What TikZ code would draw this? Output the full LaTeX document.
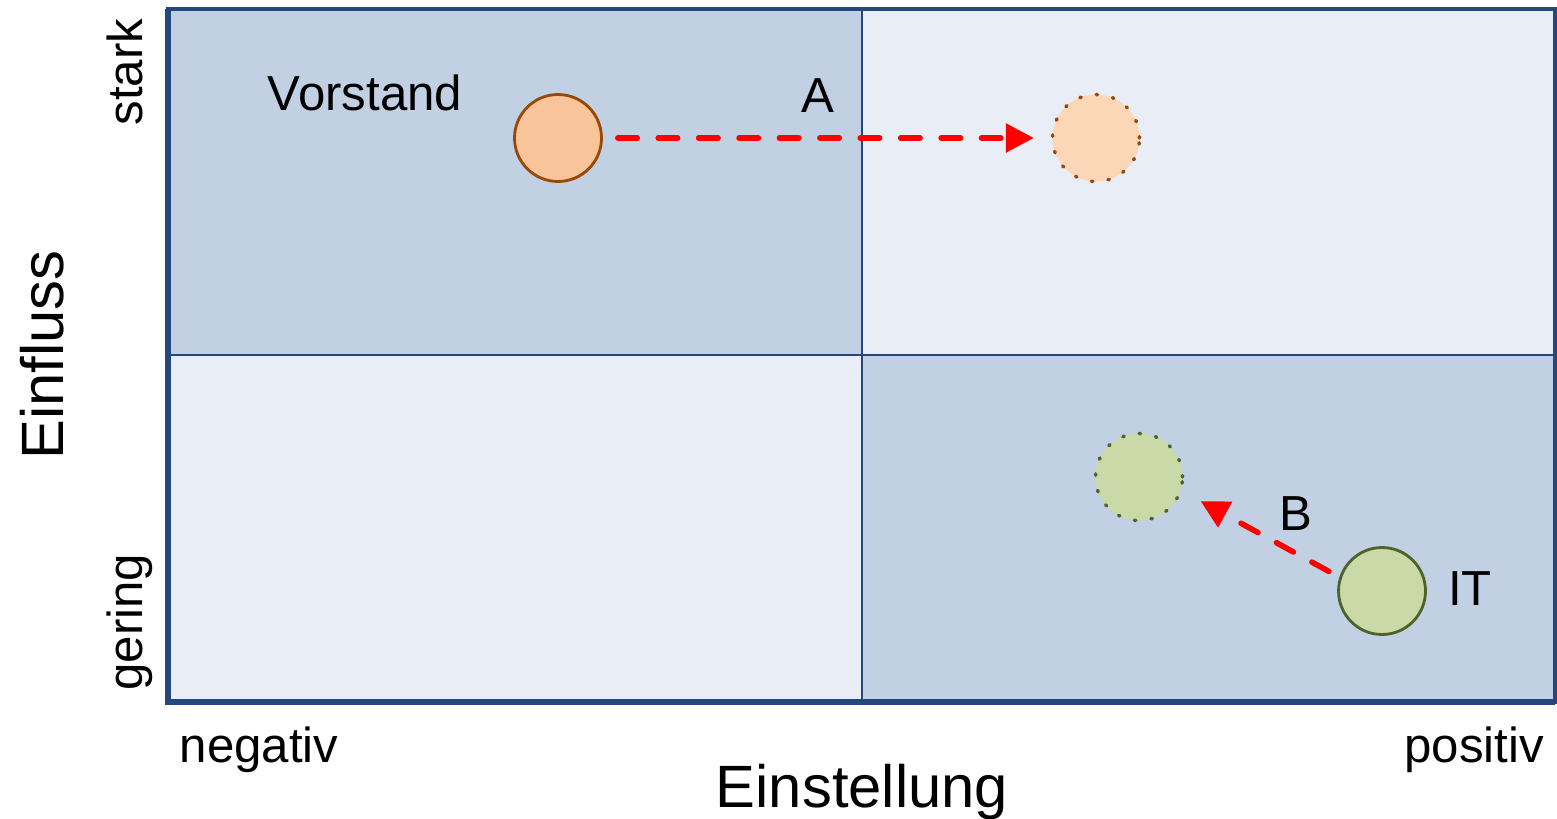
\documentclass[tikz,border=0pt]{standalone}
\usepackage{fontspec}
\setmainfont{Liberation Sans}
\usetikzlibrary{arrows.meta}
\definecolor{rahmen}{RGB}{36,72,126}
\definecolor{dunkel}{RGB}{193,208,227}
\definecolor{hell}{RGB}{233,238,246}
\definecolor{orangefill}{RGB}{249,196,153}
\definecolor{orangehell}{RGB}{251,214,183}
\definecolor{braun}{RGB}{152,72,7}
\definecolor{gruenfill}{RGB}{202,217,168}
\definecolor{gruenrand}{RGB}{79,98,40}
\begin{document}
\begin{tikzpicture}[x=0.02cm, y=-0.02cm,
    schrift/.style={font=\fontsize{28}{34}\selectfont, inner sep=0pt, anchor=base},
    gross/.style={font=\fontsize{34}{40}\selectfont, inner sep=0pt, anchor=base},
    kreis/.style={circle, minimum size=1.74cm, inner sep=0pt, line width=1.6pt},
    ziel/.style={circle, minimum size=1.74cm, inner sep=0pt, line width=2pt, line cap=round, dash pattern=on 0.8pt off 8.7pt},
    pfeil/.style={red, line width=3.2pt, line cap=round, dash pattern=on 11pt off 12pt, -{Triangle[length=16pt,width=16pt]}}]
\useasboundingbox (0,0) rectangle (1557,818);
% Quadrants
    \fill[dunkel] (168,9) rectangle (862,355);
    \fill[hell] (862,9) rectangle (1555,355);
    \fill[hell] (168,355) rectangle (862,702);
    \fill[dunkel] (862,355) rectangle (1555,702);
% Frame and cross
    \draw[rahmen, line width=1.8pt] (168,9) rectangle (1555,702);
    \draw[rahmen, line width=1.6pt] (862,9) -- (862,702);
    \draw[rahmen, line width=1.6pt] (168,355) -- (1555,355);
    \draw[rahmen, line width=3pt] (168,9) -- (168,702) -- (1555,702);
% Circles
    \node[kreis, draw=braun, fill=orangefill] (vorstand) at (558,138) {};
    \node[ziel, draw=braun, fill=orangehell] (vorstandziel) at (1096,138) {};
    \node[kreis, draw=gruenrand, fill=gruenfill] (it) at (1382,591) {};
    \node[ziel, draw=gruenrand, fill=gruenfill] (itziel) at (1139,477) {};
% Arrows
    \draw[pfeil, shorten <=8.5pt, shorten >=9.6pt] (vorstand) -- (vorstandziel);
    \draw[pfeil, shorten <=6.8pt, shorten >=12pt] (it.162) -- (itziel.-18);
% Labels
    \node[schrift] (lvorstand) at (365,110) {Vorstand};
    \node[schrift] (la) at (818,112) {A};
    \node[schrift] (lb) at (1296,530) {B};
    \node[schrift] (lit) at (1470,605) {IT};
    \node[schrift] (negativ) at (259,762) {negativ};
    \node[schrift] (positiv) at (1474,762) {positiv};
    \node[gross] (einstellung) at (862,807) {Einstellung};
    \node[gross, rotate=90] (einfluss) at (63,355) {Einfluss};
    \node[schrift, rotate=90] (stark) at (142,72) {stark};
    \node[schrift, rotate=90] (gering) at (142,622) {gering};
\end{tikzpicture}
\end{document}
